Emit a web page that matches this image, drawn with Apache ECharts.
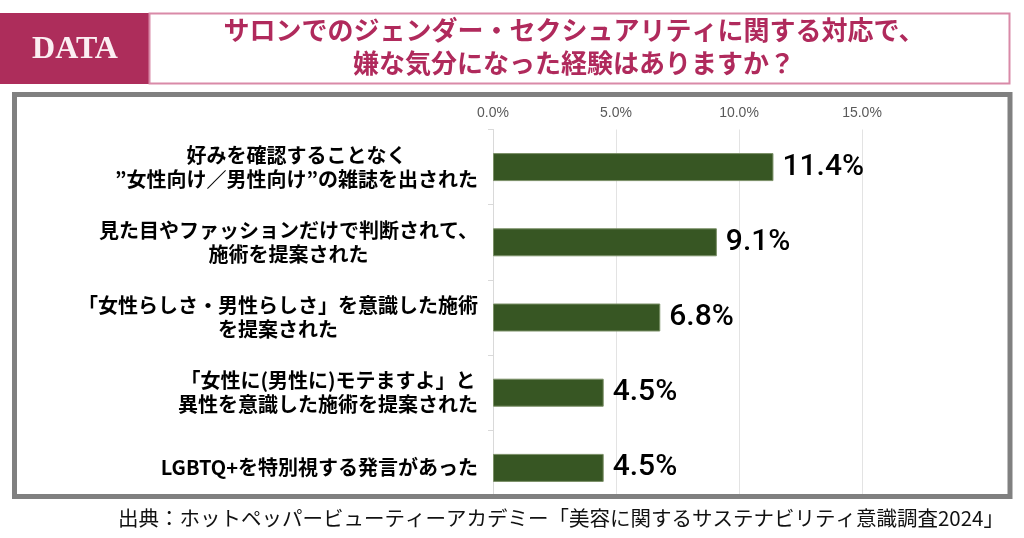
<!DOCTYPE html>
<html>
<head>
<meta charset="utf-8">
<script src="https://cdn.jsdelivr.net/npm/echarts@6/dist/echarts.min.js"></script>
<style>
html,body{margin:0;padding:0;background:#fff;}
#chart{width:1024px;height:538px;}
</style>
</head>
<body>
<div id="chart"></div>
<script>
const categories = [
  '好みを確認することなく\n”女性向け／男性向け”の雑誌を出された',
  '見た目やファッションだけで判断されて、\n施術を提案された',
  '「女性らしさ・男性らしさ」を意識した施術\nを提案された',
  '「女性に(男性に)モテますよ」と\n異性を意識した施術を提案された',
  'LGBTQ+を特別視する発言があった'
];
const values = [11.4, 9.1, 6.8, 4.5, 4.5];
const titleLines = ['サロンでのジェンダー・セクシュアリティに関する対応で、', '嫌な気分になった経験はありますか？'];
const badgeText = 'DATA';
const sourceText = '出典：ホットペッパービューティーアカデミー「美容に関するサステナビリティ意識調査2024」';

const JP = '"Noto Sans CJK JP", "Noto Sans", sans-serif';
const chart = echarts.init(document.getElementById('chart'));
chart.setOption({
  backgroundColor: '#ffffff',
  animation: false,
  grid: { left: 493, right: 39, top: 129.5, height: 376, containLabel: false },
  xAxis: {
    type: 'value',
    position: 'top',
    min: 0, max: 20, interval: 5,
    axisLine: { show: false },
    axisTick: { show: false },
    splitLine: { show: true, showMaxLine: false, lineStyle: { color: '#e3e3e3', width: 1 } },
    axisLabel: {
      showMaxLabel: false,
      margin: 9,
      color: '#595959',
      fontSize: 14,
      fontFamily: '"Liberation Sans", Arial, sans-serif',
      formatter: v => v.toFixed(1) + '%'
    }
  },
  yAxis: {
    type: 'category',
    inverse: true,
    data: categories,
    axisLine: { show: true, lineStyle: { color: '#d9d9d9', width: 1 } },
    axisTick: { show: true, length: 5, lineStyle: { color: '#d9d9d9' } },
    axisLabel: {
      margin: 15,
      align: 'right',
      formatter: v => v.split('\n').map(l => '{c|' + l + '}').join('\n'),
      rich: {
        c: { align: 'center', fontSize: 20, fontWeight: 'bold', color: '#000000', fontFamily: JP, lineHeight: 24 }
      }
    }
  },
  series: [{
    type: 'bar',
    data: values,
    barWidth: 28,
    itemStyle: { color: '#375623', borderColor: '#7a8f66', borderWidth: 1 },
    label: {
      show: true,
      position: 'right',
      distance: 9,
      color: '#000000',
      fontSize: 30,
      fontWeight: 500,
      fontFamily: 'Roboto, "Liberation Sans", sans-serif',
      formatter: p => p.value.toFixed(1) + '%'
    }
  }],
  graphic: [
    { type: 'rect', z: 10, shape: { x: 0, y: 13, width: 149, height: 71 }, style: { fill: '#ad2d5b' } },
    { type: 'text', z: 11, x: 75, y: 50, style: {
        text: badgeText, fill: '#fbeef2', font: 'bold 32px "Liberation Serif", "DejaVu Serif", serif',
        align: 'center', verticalAlign: 'middle', shadowColor: '#e58aa8', shadowOffsetX: 1, shadowOffsetY: 1, shadowBlur: 1 } },
    { type: 'rect', z: 10, shape: { x: 149.5, y: 13.5, width: 860, height: 70 }, style: { fill: '#ffffff', stroke: '#d98aa8', lineWidth: 2 } },
    { type: 'text', z: 11, x: 574, y: 30, style: {
        text: titleLines[0], fill: '#b02a5c', font: 'bold 26px ' + JP, align: 'center', verticalAlign: 'middle' } },
    { type: 'text', z: 11, x: 574, y: 63, style: {
        text: titleLines[1], fill: '#b02a5c', font: 'bold 26px ' + JP, align: 'center', verticalAlign: 'middle' } },
    { type: 'rect', z: 20, shape: { x: 0, y: 499, width: 1024, height: 10 }, style: { fill: '#ffffff' } },
    { type: 'rect', z: 21, shape: { x: 14.5, y: 94.5, width: 995.5, height: 402 }, style: { fill: 'none', stroke: '#808080', lineWidth: 5 } },
    { type: 'text', z: 22, x: 1004, y: 518, style: {
        text: sourceText, fill: '#111111', font: '20.5px ' + JP, align: 'right', verticalAlign: 'middle' } }
  ]
});
</script>
</body>
</html>
